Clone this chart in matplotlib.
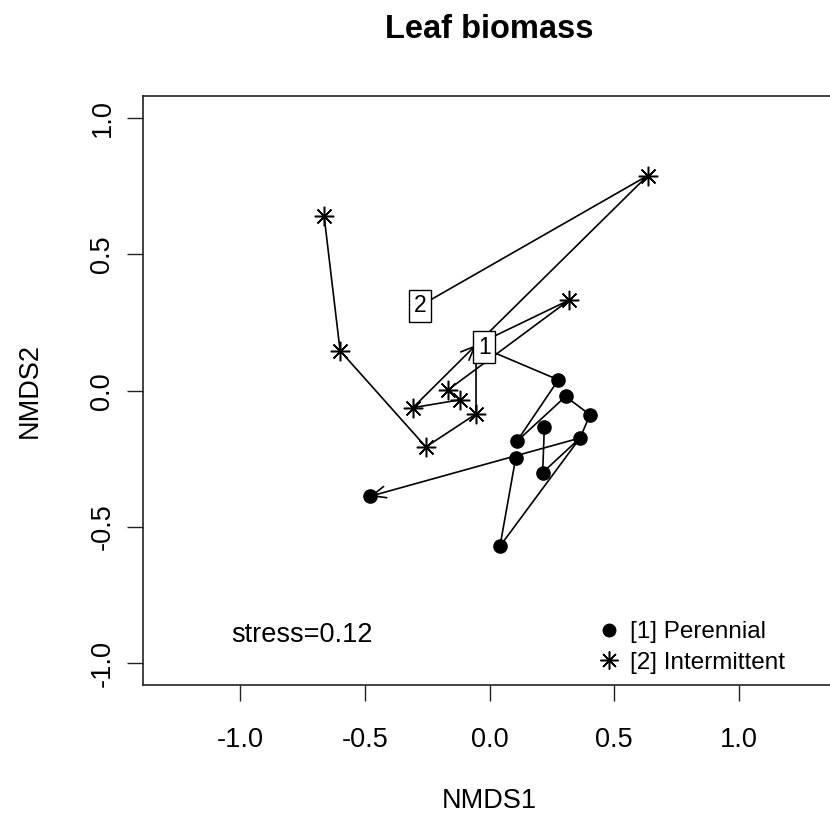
import matplotlib
matplotlib.use("Agg")
import matplotlib.pyplot as plt
from matplotlib.lines import Line2D

plt.rcParams['font.family'] = ['Liberation Sans', 'DejaVu Sans']

# ---------------- data ----------------
title = "Leaf biomass"
x_label = "NMDS1"
y_label = "NMDS2"
x_ticks = [-1.0, -0.5, 0.0, 0.5, 1.0]
x_tick_labels = ["-1.0", "-0.5", "0.0", "0.5", "1.0"]
y_ticks = [-1.0, -0.5, 0.0, 0.5, 1.0]
y_tick_labels = ["-1.0", "-0.5", "0.0", "0.5", "1.0"]
stress_text = "stress=0.12"
stress_pos = (-0.75, -0.897)

# Perennial samples (index 0 = start point hidden under label "1")
per_x = [-0.054, 0.276, 0.305, 0.403, 0.220, 0.363, 0.109, 0.105, 0.213, -0.479, 0.042]
per_y = [0.168, 0.040, -0.021, -0.088, -0.133, -0.173, -0.186, -0.247, -0.300, -0.387, -0.570]
per_hidden = [0]
# connecting paths (index lists); the last path ends with an arrow
per_paths = [[4, 8, 5, 10, 7], [0, 1, 6, 2, 3, 5, 9]]

# Intermittent samples (index 0 and 2 hidden under the labels)
int_x = [-0.279, 0.634, -0.054, -0.054, -0.255, -0.599, -0.663, 0.320, -0.165, -0.118, -0.307]
int_y = [0.311, 0.789, 0.168, -0.085, -0.206, 0.147, 0.641, 0.333, 0.004, -0.033, -0.062]
int_hidden = [0, 2]
int_paths = [[0, 1, 2, 3, 4, 5, 6], [2, 7, 8, 9, 10, 2]]

group_labels = ["1", "2"]
group_label_x = [-0.021, -0.279]
group_label_y = [0.159, 0.311]
legend_labels = ["[1] Perennial", "[2] Intermittent"]

# ---------------- figure ----------------
W, H = 830, 832
fig = plt.figure(figsize=(W / 100, H / 100), dpi=100)
ax = fig.add_axes([143 / W, 147 / H, 693 / W, 589 / H])
ax.set_xlim(-1.389, 1.389)
ax.set_ylim(-1.079, 1.081)

for s in ax.spines.values():
    s.set_color('#222222')
    s.set_linewidth(1.2)

lw = 1.2
ast = (8, 2, 0)  # asterisk like R pch=8


def draw_group(xs, ys, paths, hidden, marker, ms, mew, filled):
    for k, p in enumerate(paths):
        is_last = (k == len(paths) - 1)
        pts = p[:-1] if is_last else p
        ax.plot([xs[i] for i in pts], [ys[i] for i in pts], color='black',
                lw=lw, zorder=2, solid_capstyle='round')
        if is_last:
            a, b = p[-2], p[-1]
            ax.annotate("", xy=(xs[b], ys[b]), xytext=(xs[a], ys[a]),
                        arrowprops=dict(arrowstyle="->,head_length=0.7,head_width=0.3",
                                        color='black', lw=lw, shrinkA=0, shrinkB=0,
                                        mutation_scale=14),
                        zorder=2)
    show = [i for i in range(len(xs)) if i not in hidden]
    if filled:
        ax.plot([xs[i] for i in show], [ys[i] for i in show], linestyle='none',
                marker=marker, ms=ms, color='black', zorder=3)
    else:
        ax.plot([xs[i] for i in show], [ys[i] for i in show], linestyle='none',
                marker=marker, ms=ms, mew=mew, color='black', mec='black', zorder=3)


draw_group(per_x, per_y, per_paths, per_hidden, 'o', 9.5, 1, True)
draw_group(int_x, int_y, int_paths, int_hidden, ast, 14, 1.1, False)

for lab, lx, ly in zip(group_labels, group_label_x, group_label_y):
    ax.text(lx, ly, lab, ha='center', va='center', fontsize=16.5, zorder=5,
            bbox=dict(boxstyle='square,pad=0.2', fc='white', ec='black', lw=1))

ax.text(stress_pos[0], stress_pos[1], stress_text, ha='center', va='center', fontsize=19.5)

handles = [Line2D([], [], linestyle='none', marker='o', ms=9, color='black'),
           Line2D([], [], linestyle='none', marker=ast, ms=13, mew=1.1, color='black')]
ax.legend(handles, legend_labels, loc='upper left',
          bbox_to_anchor=((596.7 - 143) / 693, (685 - 621) / 589),
          frameon=False, fontsize=17.5, handlelength=1.0, handletextpad=0.35,
          borderpad=0, borderaxespad=0, labelspacing=0.35)

ax.set_xticks(x_ticks)
ax.set_xticklabels(x_tick_labels)
ax.set_yticks(y_ticks)
ax.set_yticklabels(y_tick_labels, rotation=90, va='center')
ax.tick_params(axis='x', direction='out', length=11.5, width=1, labelsize=19.5, pad=19, color='#222222')
ax.tick_params(axis='y', direction='out', length=11.5, width=1, labelsize=19.5, pad=8.3, color='#222222')

ax.set_xlabel(x_label, fontsize=19.5)
ax.xaxis.set_label_coords((489.5 - 143) / 693, (685 - 801) / 589)
ax.xaxis.label.set_va('center')
ax.set_ylabel(y_label, fontsize=19.5)
ax.yaxis.set_label_coords((30 - 143) / 693, (685 - 390) / 589)
ax.yaxis.label.set_va('center')

ax.set_title(title, fontsize=23.5, fontweight='bold', y=(685 - 30) / 589, va='center', pad=0)

fig.savefig("out.png", dpi=100)
